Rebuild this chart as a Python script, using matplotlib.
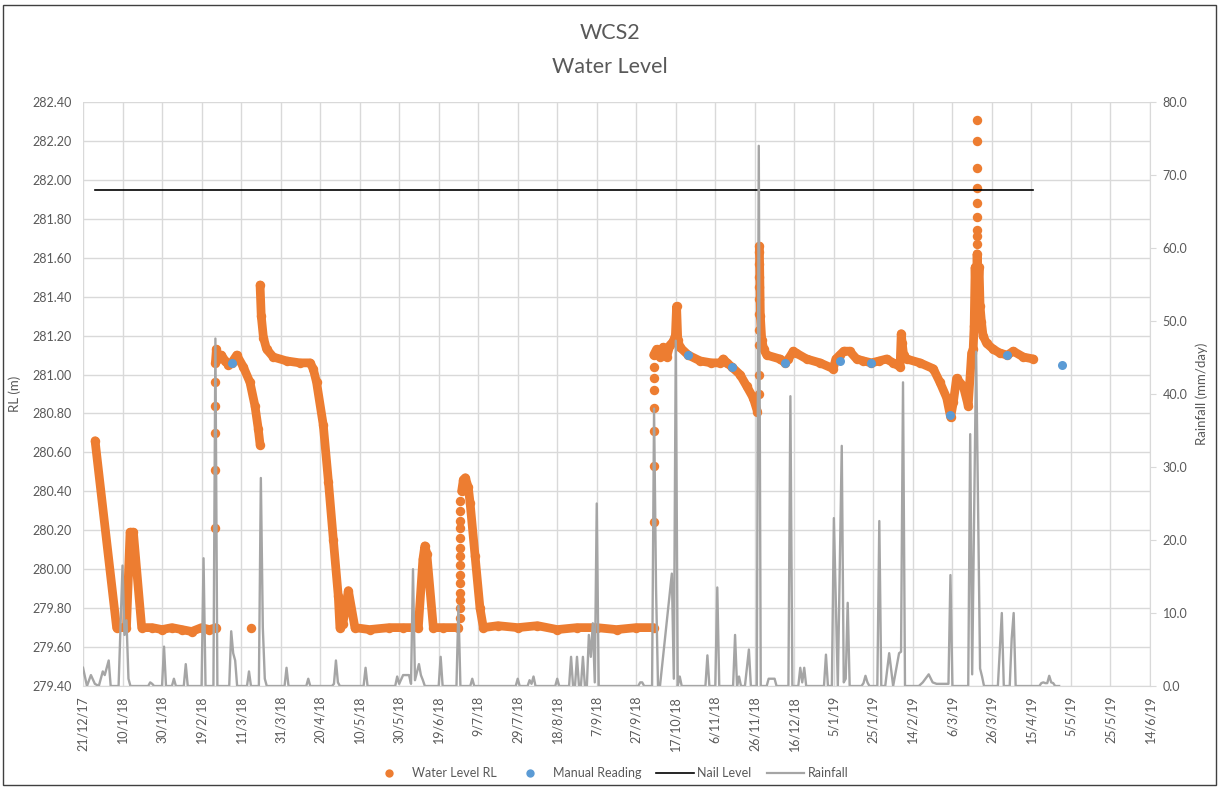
import matplotlib
matplotlib.use('Agg')
import matplotlib.pyplot as plt
from matplotlib.lines import Line2D
from matplotlib.patches import Rectangle
from matplotlib.ticker import MultipleLocator, FormatStrFormatter
import pandas as pd

plt.rcParams['font.family'] = ['Lato', 'DejaVu Sans']

# all x values are days after the first tick (21/12/17)
t0 = pd.Timestamp('2017-12-21')

# water level RL (m), continuous logger runs
wl1_day = [6.1, 17, 22, 23.8, 25.5, 29.7, 35, 40, 45, 50, 55, 60, 64, 67.3]
wl1_rl = [280.66, 279.70, 279.70, 280.19, 280.19, 279.70, 279.70, 279.69, 279.70, 279.69, 279.68, 279.70, 279.69, 279.70]

wl2_day = [67.0, 67.5, 68.5, 70, 72, 73.5, 75.2, 77.8, 81.1, 84.5, 87, 88.7, 89.6]
wl2_rl = [281.06, 281.13, 281.08, 281.10, 281.07, 281.05, 281.06, 281.10, 281.04, 280.96, 280.84, 280.72, 280.64]

wl3_day = [89.6, 90.2, 91.3, 92.9, 96.3, 103, 109.8, 114.9, 116.5, 118.2, 121.6, 124.2, 126.7, 129.2, 130,
           131.5, 134.3, 137.6, 145, 155, 162, 169.7, 172, 173, 174, 177.3, 182, 190]
wl3_rl = [281.46, 281.30, 281.19, 281.13, 281.09, 281.07, 281.06, 281.06, 281.03, 280.96, 280.74, 280.45, 280.15, 279.86, 279.70,
          279.72, 279.89, 279.70, 279.69, 279.70, 279.70, 279.70, 280.05, 280.12, 280.08, 279.70, 279.70, 279.70]

wl4_day = [191.6, 192.5, 193.5, 195, 195.9, 198.4, 200.9, 202.6, 210, 220, 230, 240, 250, 260, 270, 280, 288.8]
wl4_rl = [280.40, 280.46, 280.47, 280.42, 280.34, 280.07, 279.80, 279.70, 279.71, 279.70, 279.71, 279.69, 279.70, 279.70, 279.69, 279.70, 279.70]

wl5_day = [288.8, 290.3, 292, 293.7, 295.4, 297, 298.7, 299.8, 300.4, 301, 302.1, 306.3, 312.3, 318, 322.4,
           324, 326, 328.2, 332.5, 335.9, 339.2, 341.3]
wl5_rl = [281.10, 281.13, 281.09, 281.14, 281.09, 281.15, 281.17, 281.20, 281.35, 281.18, 281.14, 281.10, 281.07, 281.06, 281.06,
          281.08, 281.06, 281.04, 281.00, 280.94, 280.88, 280.81]

wl6_day = [342.3, 342.8, 343.5, 344.5, 346, 352.7, 355.3, 357, 359.5, 361, 366.2, 373, 379.7, 381, 383, 385, 388,
           391.5, 395, 399, 403, 406.7, 410, 413.5, 414.1, 414.6, 415.3, 416.8, 423.6, 430.3, 433.7, 437.1, 439.1,
           440.5, 442.1, 445.5, 448, 449.7, 450.5, 451, 451.5, 452, 452.5, 453, 453.5, 454, 454.7, 455.5, 457.3,
           460.7, 464, 467.8, 470.8, 475.9, 480.9]
wl6_rl = [281.66, 281.30, 281.18, 281.13, 281.10, 281.08, 281.06, 281.08, 281.12, 281.11, 281.08, 281.06, 281.03, 281.08, 281.10, 281.12, 281.12,
          281.08, 281.07, 281.06, 281.07, 281.08, 281.06, 281.04, 281.21, 281.16, 281.10, 281.08, 281.06, 281.03, 280.96, 280.88, 280.78,
          280.86, 280.98, 280.94, 280.84, 281.11, 281.13, 281.25, 281.55, 281.35, 281.62, 281.45, 281.55, 281.35, 281.27, 281.20, 281.16,
          281.13, 281.11, 281.10, 281.12, 281.09, 281.08]

# isolated logger readings (fast rises, shown as separate dots)
wl_dot_day = [67] * 5 + [84.8] + [190.8] * 14 + [288.8] * 7 + [342.1] * 10 + [452.2] * 9
wl_dot_rl = [280.21, 280.51, 280.70, 280.84, 280.96,
             279.70,
             279.75, 279.80, 279.84, 279.88, 279.93, 279.97, 280.02, 280.07, 280.11, 280.16, 280.21, 280.25, 280.30, 280.35,
             280.24, 280.53, 280.71, 280.83, 280.92, 280.98, 281.04,
             280.90, 281.00, 281.15, 281.23, 281.31, 281.39, 281.45, 281.50, 281.57, 281.63,
             281.67, 281.71, 281.74, 281.81, 281.88, 281.96, 282.06, 282.20, 282.31]

manual_day = [75.2, 306.3, 328.2, 355.3, 383, 399, 438.8, 467.8, 495.3]
manual_rl = [281.06, 281.10, 281.04, 281.06, 281.07, 281.06, 280.79, 281.10, 281.05]

nail_day = [6.1, 480.9]
nail_rl = [281.95, 281.95]

rain_day = [0, 2, 4, 6, 8, 10, 11, 13, 14, 18, 20, 21, 22, 23, 24, 33, 34, 35, 36, 40, 41, 42, 45, 46, 47,
            51, 52, 53, 60, 61, 62, 66, 67, 68, 74, 75, 76, 77, 78, 83, 84, 85, 89, 90, 91, 92, 93,
            102, 103, 104, 113, 114, 115, 126, 127, 128, 129, 130, 142, 143, 144,
            158, 159, 160, 162, 165, 166, 167, 168, 170, 171, 172, 173, 180, 181, 182, 189, 190, 191,
            196, 197, 198, 219, 220, 221, 225, 226, 227, 228, 229, 239, 240, 241,
            246, 247, 248, 249, 250, 251, 252, 253, 254, 255, 256, 257, 258, 259, 260, 261,
            281, 282, 283, 284, 288, 289, 290, 291, 292, 298, 299, 300, 301, 302, 303,
            315, 316, 317, 320, 321, 322, 329, 330, 331, 332, 333, 335, 337, 338, 341, 342, 343,
            346, 347, 350, 351, 357, 358, 359, 362, 363, 364, 365, 366, 375, 376, 377,
            379, 380, 382, 384, 385, 386, 387, 388, 394, 395, 396, 397, 398, 402, 403, 404,
            406, 408, 410, 413, 414, 415, 416, 423, 425, 428, 430, 432, 438, 439, 440,
            448, 449, 450, 452, 454, 455, 456, 463, 465, 466, 469, 470, 471, 472,
            484, 485, 486, 487, 488, 489, 490, 491, 492, 494]
rain_mm = [2.5, 0, 1.5, 0.3, 0, 2.0, 1.5, 3.5, 0, 0, 16.5, 7.0, 9.0, 1.0, 0, 0, 0.5, 0.3, 0, 0, 5.4, 0, 0, 1.0, 0,
           0, 3.0, 0, 0, 17.5, 0, 0, 47.6, 0, 0, 7.5, 4.5, 3.5, 0, 0, 2.0, 0, 0, 28.5, 8.0, 1.0, 0,
           0, 2.5, 0, 0, 1.0, 0, 0, 0.3, 3.5, 0.5, 0, 0, 2.5, 0,
           0, 1.3, 0.3, 1.5, 1.5, 0.3, 16.0, 0.8, 3.0, 1.5, 0.8, 0, 0, 4.0, 0, 0, 11.0, 0,
           0, 1.0, 0, 0, 1.0, 0, 0, 0.8, 0.3, 1.3, 0, 0, 1.0, 0,
           0, 4.0, 0, 0, 4.0, 0, 0, 4.0, 0, 0, 7.0, 4.0, 8.6, 0.5, 25.0, 0,
           0, 0.5, 0.5, 0, 0, 38.0, 13.5, 0, 0, 15.4, 1.0, 47.3, 0, 1.3, 0,
           0, 4.2, 0, 0, 13.5, 0, 0, 7.0, 0, 1.3, 0, 0, 5.0, 0, 0, 74.0, 0,
           0, 1.0, 1.0, 0, 0, 39.7, 0, 0, 2.5, 0.5, 2.5, 0, 0, 4.3, 0,
           0, 23.0, 0, 32.9, 0.5, 1.0, 11.4, 0, 0, 0.4, 1.4, 0.5, 0, 0, 22.6, 0,
           0, 4.5, 0, 4.5, 4.7, 41.6, 0, 0, 0.5, 1.6, 0.5, 0.3, 0.3, 15.2, 0,
           0, 34.5, 1.6, 45.8, 2.4, 1.3, 0, 0, 10.0, 0, 0, 6.5, 10.0, 0,
           0, 0.4, 0.5, 0.4, 0.4, 1.4, 0.5, 0.4, 0, 0]


def dates(days):
    return [t0 + pd.Timedelta(days=d) for d in days]


orange = '#ED7D31'
blue = '#5B9BD5'
grey = '#A5A5A5'
txt = '#595959'
gridc = '#D9D9D9'

fig = plt.figure(figsize=(12.19, 7.87), dpi=100)
ax = fig.add_axes([0.0681, 0.1283, 0.8753, 0.7421])
ax2 = ax.twinx()

for d, v in [(wl1_day, wl1_rl), (wl2_day, wl2_rl), (wl3_day, wl3_rl),
             (wl4_day, wl4_rl), (wl5_day, wl5_rl), (wl6_day, wl6_rl)]:
    ax.plot(dates(d), v, color=orange, lw=6.3, marker='o', ms=6.8, mew=0,
            solid_capstyle='round', solid_joinstyle='round', zorder=3)
ax.plot(dates(wl_dot_day), wl_dot_rl, 'o', color=orange, ms=6.8, mew=0, zorder=3)
ax.plot(dates(manual_day), manual_rl, 'o', color=blue, ms=6.5, mew=0, zorder=4)
ax.plot(dates(nail_day), nail_rl, color='black', lw=1.2, zorder=4)
ax2.plot(dates(rain_day), rain_mm, color=grey, lw=1.7)

xt = pd.date_range(t0, periods=28, freq='20D')
ax.set_xlim(xt[0], xt[-1])
ax.set_xticks(xt)
ax.set_xticklabels([f'{d.day}/{d.month}/{d:%y}' for d in xt], rotation=90)
ax.set_ylim(279.4, 282.4)
ax.yaxis.set_major_locator(MultipleLocator(0.2))
ax.yaxis.set_major_formatter(FormatStrFormatter('%.2f'))
ax2.set_ylim(0, 80)
ax2.yaxis.set_major_locator(MultipleLocator(10))
ax2.yaxis.set_major_formatter(FormatStrFormatter('%.1f'))

ax.grid(True, color=gridc, lw=1)
ax.set_axisbelow(True)
for s in ax.spines.values():
    s.set_visible(False)
for k, s in ax2.spines.items():
    s.set_visible(k == 'right')
ax2.spines['right'].set_color(gridc)
ax.spines['bottom'].set_visible(True)
ax.spines['bottom'].set_color(gridc)

ax.tick_params(axis='both', length=0, labelsize=9, labelcolor=txt)
ax.tick_params(axis='x', pad=7)
ax.tick_params(axis='y', pad=8)
ax2.tick_params(axis='y', length=4, color=gridc, labelsize=9, labelcolor=txt, pad=5)

ax.set_ylabel('RL (m)', fontsize=9.5, color=txt, labelpad=8)
ax2.set_ylabel('Rainfall (mm/day)', fontsize=9.5, color=txt, labelpad=6)

fig.text(0.5, 1 - 33 / 787, 'WCS2', ha='center', va='center', fontsize=15.5, color=txt)
fig.text(0.5, 1 - 67 / 787, 'Water Level', ha='center', va='center', fontsize=15.5, color=txt)

handles = [Line2D([], [], ls='none', marker='o', ms=6, mew=0, color=orange),
           Line2D([], [], ls='none', marker='o', ms=6, mew=0, color=blue),
           Line2D([], [], color='black', lw=1.2),
           Line2D([], [], color=grey, lw=1.6)]
fig.legend(handles, ['Water Level RL', 'Manual Reading', 'Nail Level', 'Rainfall'],
           loc='center', bbox_to_anchor=(0.5, 1 - 773 / 787), ncol=4, frameon=False,
           fontsize=9, handlelength=3, handletextpad=0.3, columnspacing=1.2, labelcolor=txt)

fig.add_artist(Rectangle((3 / 1219, 2 / 787), 1213 / 1219, 780 / 787, transform=fig.transFigure,
                         fill=False, ec='#404040', lw=1))

fig.savefig('out.png', dpi=100)
